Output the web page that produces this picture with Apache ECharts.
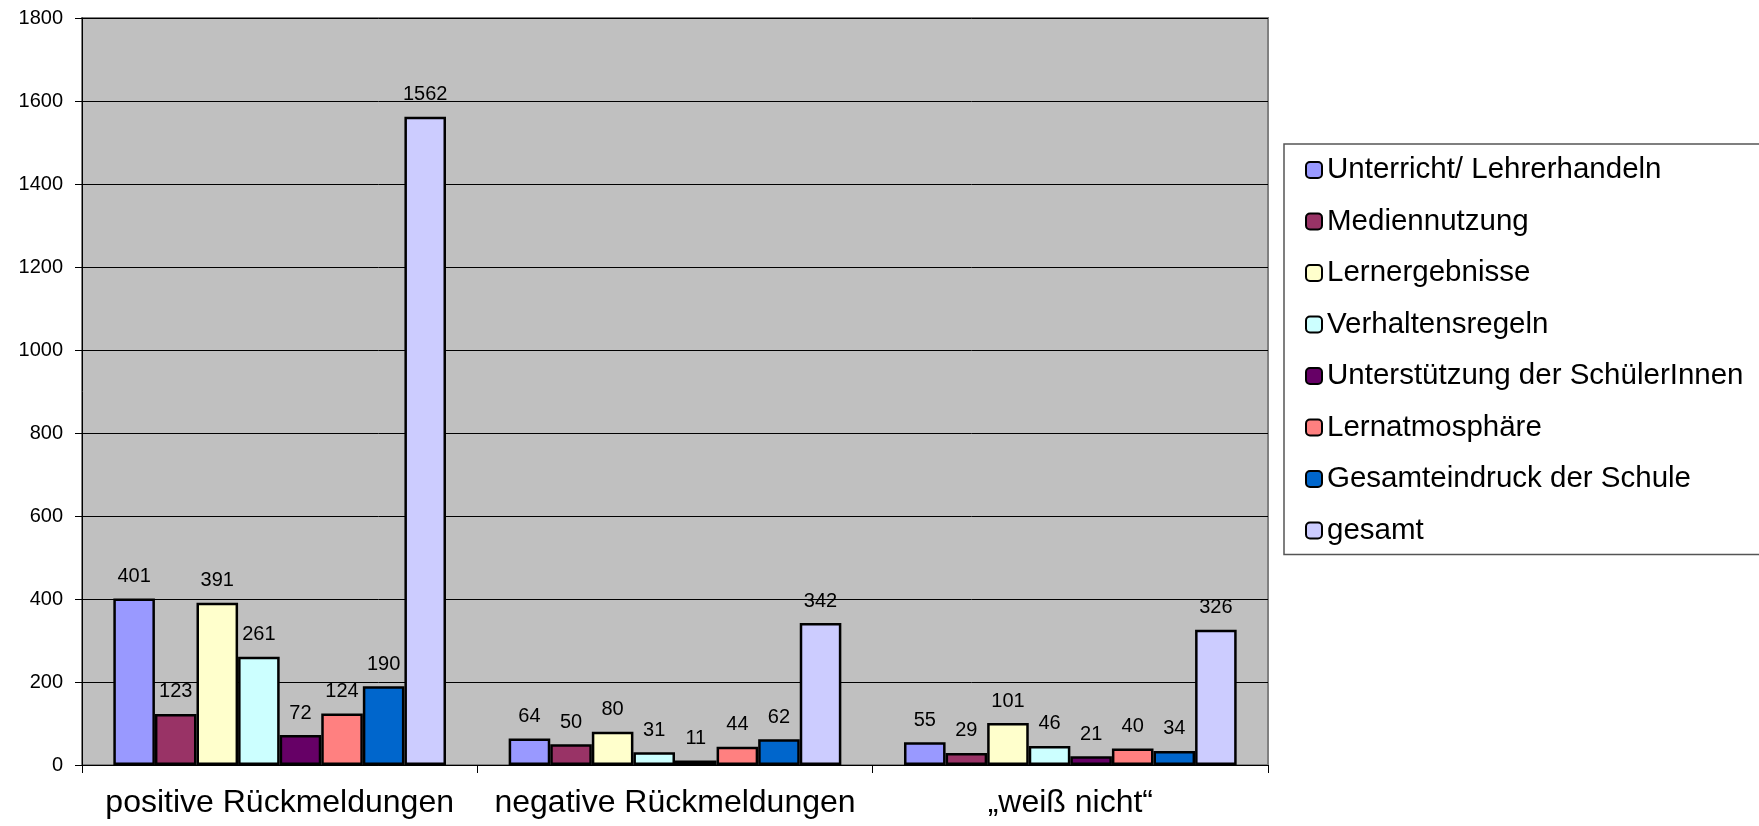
<!DOCTYPE html>
<html>
<head>
<meta charset="utf-8">
<script src="https://cdn.jsdelivr.net/npm/echarts@6/dist/echarts.min.js"></script>
<style>
  html, body { margin: 0; padding: 0; background: #fff; }
  #chart { width: 1759px; height: 826px; }
</style>
</head>
<body>
<div id="chart"></div>
<script>
// Kategorien (x-Achse)
const categories = ['positive Rückmeldungen', 'negative Rückmeldungen', '„weiß nicht“'];

// Reihen
const seriesNames = [
  'Unterricht/ Lehrerhandeln',
  'Mediennutzung',
  'Lernergebnisse',
  'Verhaltensregeln',
  'Unterstützung der SchülerInnen',
  'Lernatmosphäre',
  'Gesamteindruck der Schule',
  'gesamt'
];
const unterricht = [401, 64, 55];
const mediennutzung = [123, 50, 29];
const lernergebnisse = [391, 80, 101];
const verhaltensregeln = [261, 31, 46];
const unterstuetzung = [72, 11, 21];
const lernatmosphaere = [124, 44, 40];
const gesamteindruck = [190, 62, 34];
const gesamt = [1562, 342, 326];
const seriesValues = [unterricht, mediennutzung, lernergebnisse, verhaltensregeln,
  unterstuetzung, lernatmosphaere, gesamteindruck, gesamt];

// Achse
const yTicks = [0, 200, 400, 600, 800, 1000, 1200, 1400, 1600, 1800];

const colors = ['#9999FF', '#993366', '#FFFFCC', '#CCFFFF', '#660066', '#FF8080', '#0066CC', '#CCCCFF'];
const font = 'Liberation Sans, Arial, sans-serif';

const chart = echarts.init(document.getElementById('chart'));

const option = {
  animation: false,
  textStyle: { fontFamily: font },
  grid: {
    left: 82, right: 491, top: 18, bottom: 61,
    show: true,
    backgroundColor: '#C0C0C0',
    borderColor: '#808080',
    borderWidth: 2
  },
  legend: {
    orient: 'vertical',
    left: 1284,
    top: 144,
    padding: [11, 30, 9, 21],
    itemWidth: 16,
    itemHeight: 16,
    itemGap: 21.5,
    borderColor: '#555',
    borderWidth: 1.5,
    backgroundColor: '#fff',
    textStyle: { fontSize: 29.5, color: '#000', fontFamily: font, lineHeight: 30 },
    data: seriesNames
  },
  xAxis: {
    type: 'category',
    data: categories,
    axisLine: { lineStyle: { color: '#000', width: 1 } },
    axisTick: { show: true, length: 8, lineStyle: { color: '#000' } },
    axisLabel: { interval: 0, fontSize: 32, color: '#000', margin: 22, fontFamily: font },
    splitLine: { show: false }
  },
  yAxis: {
    type: 'value',
    min: yTicks[0],
    max: yTicks[yTicks.length - 1],
    interval: yTicks[1] - yTicks[0],
    axisLine: { show: true, lineStyle: { color: '#000', width: 1 } },
    axisTick: { show: true, length: 7, lineStyle: { color: '#000' } },
    axisLabel: { fontSize: 20, color: '#000', margin: 19, fontFamily: font, formatter: (v) => String(v) },
    splitLine: { show: true, lineStyle: { color: '#000', width: 1 } }
  },
  series: seriesNames.map((name, i) => ({
    name: name,
    type: 'bar',
    data: seriesValues[i],
    barGap: '0%',
    barCategoryGap: '15.85%',
    itemStyle: { color: colors[i], borderColor: '#000', borderWidth: 2.5 },
    label: {
      show: true,
      position: 'top',
      distance: 12,
      fontSize: 20,
      color: '#000',
      fontFamily: font
    }
  }))
};

chart.setOption(option);
</script>
</body>
</html>
